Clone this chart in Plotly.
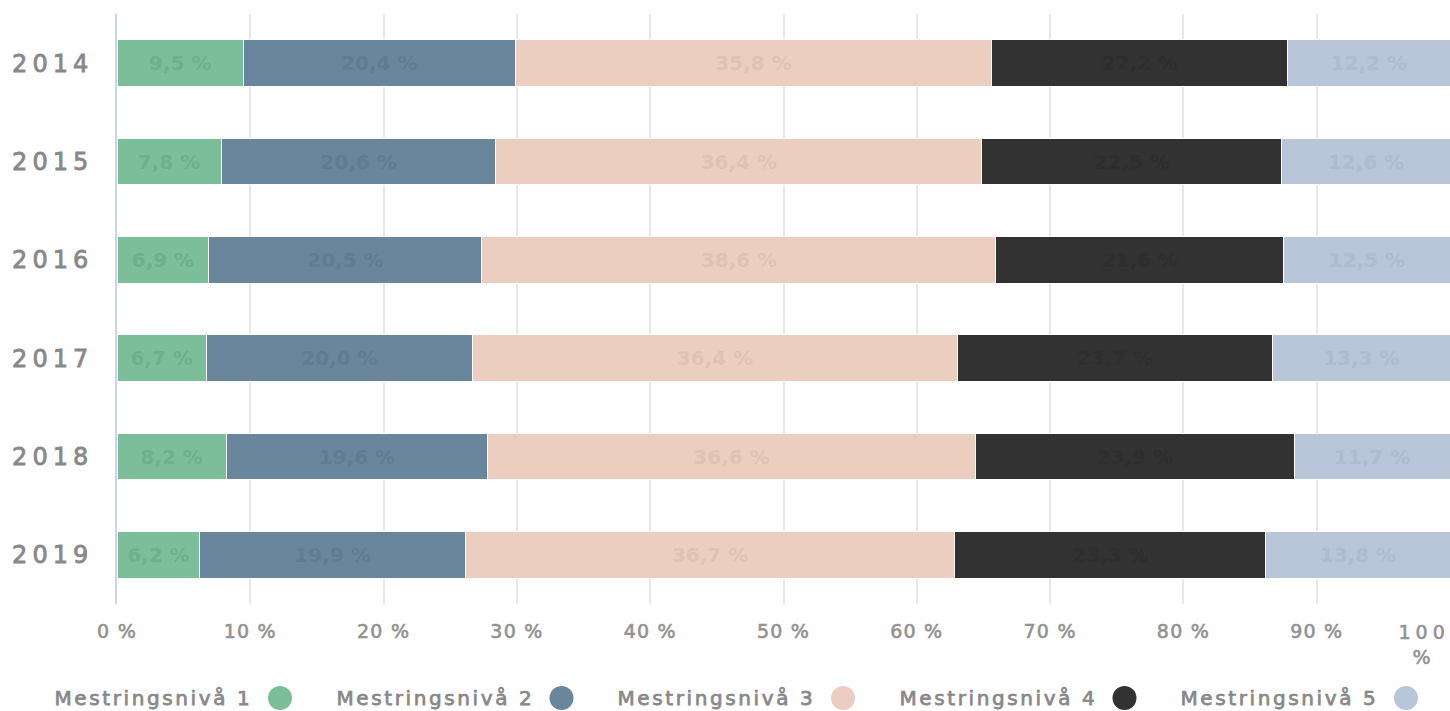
import plotly.graph_objects as go

# Share of pupils per mastery level (Mestringsnivå 1-5), by year
years = ["2014", "2015", "2016", "2017", "2018", "2019"]
level_names = ["Mestringsnivå 1", "Mestringsnivå 2", "Mestringsnivå 3",
               "Mestringsnivå 4", "Mestringsnivå 5"]
niva1 = [9.5, 7.8, 6.9, 6.7, 8.2, 6.2]
niva2 = [20.4, 20.6, 20.5, 20.0, 19.6, 19.9]
niva3 = [35.8, 36.4, 38.6, 36.4, 36.6, 36.7]
niva4 = [22.2, 22.5, 21.6, 23.7, 23.9, 23.3]
niva5 = [12.2, 12.6, 12.5, 13.3, 11.7, 13.8]
x_ticks = [0, 10, 20, 30, 40, 50, 60, 70, 80, 90, 100]

series = [niva1, niva2, niva3, niva4, niva5]
bar_colors = ["#7cbe9a", "#6a869c", "#eccec1", "#323232", "#b9c5d8"]
label_colors = ["#70ae8d", "#617c91", "#e0c2b5", "#2e2e2e", "#afbbce"]

W, H = 1450, 711
M_L, M_R, M_T, M_B = 117, 0, 14, 107
PW, PH = W - M_L - M_R, H - M_T - M_B
FONT = "DejaVu Sans"


def fmt(v):
    return f"{v:.1f} %".replace(".", ",")


fig = go.Figure()
for name, vals, col, lcol in zip(level_names, series, bar_colors, label_colors):
    fig.add_trace(go.Bar(
        y=years, x=vals, name=name, orientation="h",
        marker=dict(color=col, line=dict(color="#ffffff", width=1)),
        text=[fmt(v) for v in vals],
        textposition="inside", insidetextanchor="middle", textangle=0,
        textfont=dict(family=FONT, size=20, color=lcol, weight="bold"),
        hovertemplate="%{y}: %{text}<extra>" + name + "</extra>",
        showlegend=False,
    ))

tick_text = [f"{t} %" for t in x_ticks]
tick_text[-1] = ""  # last label is placed separately, wrapped inside the frame

fig.update_layout(
    width=W, height=H,
    margin=dict(l=M_L, r=M_R, t=M_T, b=M_B, pad=0),
    barmode="stack", barnorm="percent", bargap=0.527,
    plot_bgcolor="#ffffff", paper_bgcolor="#ffffff",
    font=dict(family=FONT, color="#8a8a8a"),
    xaxis=dict(
        range=[0, 100], tickvals=x_ticks, ticktext=tick_text,
        showgrid=True, gridcolor="#e8e8e8", gridwidth=2,
        zeroline=False, showline=False, ticks="",
        tickfont=dict(size=19, color="#929292"),
        ticklabelstandoff=14,
        fixedrange=True,
    ),
    yaxis=dict(
        autorange="reversed", showgrid=False, zeroline=False,
        showline=True, linecolor="#ccd4ea", linewidth=2, ticks="",
        tickfont=dict(size=24, color="#888888"),
        ticklabelstandoff=17,
        fixedrange=True,
    ),
)

# Wrapped label for the 100 % tick at the right edge
fig.add_annotation(
    x=1, y=0, xref="paper", yref="paper", xanchor="right", yanchor="top",
    yshift=-15, xshift=-6, text="100<br>%", showarrow=False, align="center",
    font=dict(size=19, color="#929292"),
)

# Legend row: name followed by a round swatch
circle_px = [280, 561.5, 843, 1124.5, 1406]
legend_y = -(698 - (M_T + PH)) / PH
for name, col, cx in zip(level_names, bar_colors, circle_px):
    fig.add_annotation(
        x=(cx - 45 - M_L) / PW, y=legend_y, xref="paper", yref="paper",
        xanchor="right", yanchor="middle", text=name, showarrow=False,
        font=dict(size=20, color="#888888"),
    )
    fig.add_shape(
        type="circle", xref="paper", yref="paper",
        xsizemode="pixel", ysizemode="pixel",
        xanchor=(cx - M_L) / PW, yanchor=legend_y,
        x0=-12, x1=12, y0=-12, y1=12,
        fillcolor=col, line=dict(width=0),
    )

# Letter spacing and a slightly heavier stroke for axis and legend texts
post = """
var gd = document.getElementById('{plot_id}');
function heavier(t, spacing, w){
  t.style.letterSpacing = spacing;
  t.style.stroke = t.style.fill;
  t.style.strokeWidth = w;
}
function styleTexts(){
  gd.querySelectorAll('.ytick text').forEach(function(t){ heavier(t, '5px', '0.8px'); });
  gd.querySelectorAll('.xtick text').forEach(function(t){ heavier(t, '1.2px', '0.6px'); });
  gd.querySelectorAll('.annotation').forEach(function(a){
    var t = a.querySelector('text');
    if (!t) return;
    if (a.getAttribute('data-index') === '0') heavier(t, '5px', '0.6px');
    else heavier(t, '2.6px', '0.75px');
  });
}
styleTexts();
gd.on('plotly_afterplot', styleTexts);
"""

fig.write_html("out.html", post_script=post, config={"displayModeBar": False})
